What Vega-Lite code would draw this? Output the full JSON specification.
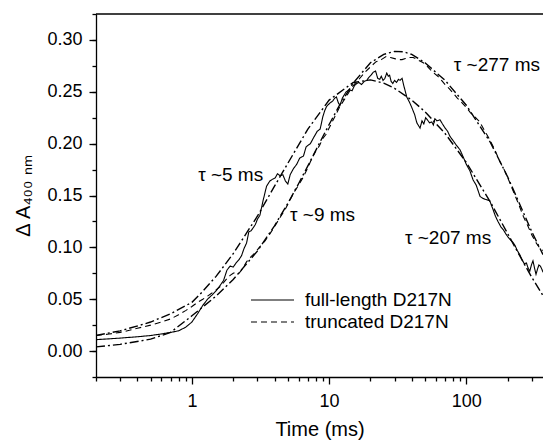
{
  "$schema": "https://vega.github.io/schema/vega-lite/v6.json",
  "width": 447,
  "height": 363,
  "autosize": {"type": "none"},
  "padding": {"left": 96, "top": 14, "right": 0, "bottom": 63},
  "background": "white",
  "config": {
    "view": {"stroke": null},
    "font": "Liberation Sans",
    "axis": {
      "domainColor": "black", "tickColor": "black", "labelColor": "black", "titleColor": "black",
      "grid": false, "labelFont": "Liberation Sans", "titleFont": "Liberation Sans",
      "labelFontSize": 18, "titleFontSize": 20, "titleFontWeight": "normal",
      "domainWidth": 1.3, "tickWidth": 1.3, "labelOverlap": false, "labelFlush": false
    }
  },
  "resolve": {"axis": {"y": "independent"}},
  "datasets": {
    "curves": [
      {"series": "full-length D217N", "t": 0.2, "v": 0.011},
      {"series": "full-length D217N", "t": 0.3, "v": 0.0125},
      {"series": "full-length D217N", "t": 0.4, "v": 0.0138},
      {"series": "full-length D217N", "t": 0.5, "v": 0.015},
      {"series": "full-length D217N", "t": 0.6, "v": 0.0165},
      {"series": "full-length D217N", "t": 0.7, "v": 0.018},
      {"series": "full-length D217N", "t": 0.8, "v": 0.0195},
      {"series": "full-length D217N", "t": 0.9, "v": 0.023},
      {"series": "full-length D217N", "t": 1.0, "v": 0.028},
      {"series": "full-length D217N", "t": 1.1, "v": 0.036},
      {"series": "full-length D217N", "t": 1.2, "v": 0.044},
      {"series": "full-length D217N", "t": 1.3, "v": 0.05},
      {"series": "full-length D217N", "t": 1.4, "v": 0.054},
      {"series": "full-length D217N", "t": 1.5, "v": 0.058},
      {"series": "full-length D217N", "t": 1.6, "v": 0.063},
      {"series": "full-length D217N", "t": 1.7, "v": 0.068},
      {"series": "full-length D217N", "t": 1.8, "v": 0.078},
      {"series": "full-length D217N", "t": 1.9, "v": 0.082},
      {"series": "full-length D217N", "t": 2.0, "v": 0.081},
      {"series": "full-length D217N", "t": 2.1, "v": 0.085},
      {"series": "full-length D217N", "t": 2.2, "v": 0.088},
      {"series": "full-length D217N", "t": 2.3, "v": 0.092},
      {"series": "full-length D217N", "t": 2.4, "v": 0.099},
      {"series": "full-length D217N", "t": 2.5, "v": 0.104},
      {"series": "full-length D217N", "t": 2.6, "v": 0.115},
      {"series": "full-length D217N", "t": 2.7, "v": 0.116},
      {"series": "full-length D217N", "t": 2.8, "v": 0.119},
      {"series": "full-length D217N", "t": 2.9, "v": 0.122},
      {"series": "full-length D217N", "t": 3.0, "v": 0.127},
      {"series": "full-length D217N", "t": 3.13, "v": 0.131},
      {"series": "full-length D217N", "t": 3.3, "v": 0.145},
      {"series": "full-length D217N", "t": 3.5, "v": 0.159},
      {"series": "full-length D217N", "t": 3.7, "v": 0.164},
      {"series": "full-length D217N", "t": 3.9, "v": 0.166},
      {"series": "full-length D217N", "t": 4.05, "v": 0.167},
      {"series": "full-length D217N", "t": 4.2, "v": 0.171},
      {"series": "full-length D217N", "t": 4.4, "v": 0.169},
      {"series": "full-length D217N", "t": 4.6, "v": 0.17},
      {"series": "full-length D217N", "t": 4.8, "v": 0.164},
      {"series": "full-length D217N", "t": 5.0, "v": 0.161},
      {"series": "full-length D217N", "t": 5.2, "v": 0.17},
      {"series": "full-length D217N", "t": 5.5, "v": 0.176},
      {"series": "full-length D217N", "t": 5.8, "v": 0.18},
      {"series": "full-length D217N", "t": 6.1, "v": 0.186},
      {"series": "full-length D217N", "t": 6.5, "v": 0.188},
      {"series": "full-length D217N", "t": 6.8, "v": 0.197},
      {"series": "full-length D217N", "t": 7.3, "v": 0.2},
      {"series": "full-length D217N", "t": 7.8, "v": 0.207},
      {"series": "full-length D217N", "t": 8.2, "v": 0.212},
      {"series": "full-length D217N", "t": 8.6, "v": 0.214},
      {"series": "full-length D217N", "t": 9.0, "v": 0.226},
      {"series": "full-length D217N", "t": 9.3, "v": 0.232},
      {"series": "full-length D217N", "t": 9.6, "v": 0.236},
      {"series": "full-length D217N", "t": 10.1, "v": 0.239},
      {"series": "full-length D217N", "t": 10.6, "v": 0.241},
      {"series": "full-length D217N", "t": 11.0, "v": 0.244},
      {"series": "full-length D217N", "t": 11.3, "v": 0.245},
      {"series": "full-length D217N", "t": 11.7, "v": 0.239},
      {"series": "full-length D217N", "t": 12.0, "v": 0.237},
      {"series": "full-length D217N", "t": 12.5, "v": 0.244},
      {"series": "full-length D217N", "t": 13.3, "v": 0.25},
      {"series": "full-length D217N", "t": 14.0, "v": 0.252},
      {"series": "full-length D217N", "t": 14.7, "v": 0.251},
      {"series": "full-length D217N", "t": 15.3, "v": 0.256},
      {"series": "full-length D217N", "t": 15.9, "v": 0.258},
      {"series": "full-length D217N", "t": 16.5, "v": 0.259},
      {"series": "full-length D217N", "t": 17.2, "v": 0.257},
      {"series": "full-length D217N", "t": 18.0, "v": 0.26},
      {"series": "full-length D217N", "t": 18.8, "v": 0.261},
      {"series": "full-length D217N", "t": 19.5, "v": 0.264},
      {"series": "full-length D217N", "t": 20.2, "v": 0.266},
      {"series": "full-length D217N", "t": 21.0, "v": 0.269},
      {"series": "full-length D217N", "t": 21.8, "v": 0.27},
      {"series": "full-length D217N", "t": 22.6, "v": 0.263},
      {"series": "full-length D217N", "t": 23.4, "v": 0.262},
      {"series": "full-length D217N", "t": 24.0, "v": 0.265},
      {"series": "full-length D217N", "t": 24.7, "v": 0.261},
      {"series": "full-length D217N", "t": 25.5, "v": 0.263},
      {"series": "full-length D217N", "t": 26.3, "v": 0.268},
      {"series": "full-length D217N", "t": 27.0, "v": 0.265},
      {"series": "full-length D217N", "t": 27.6, "v": 0.266},
      {"series": "full-length D217N", "t": 28.3, "v": 0.26},
      {"series": "full-length D217N", "t": 29.1, "v": 0.258},
      {"series": "full-length D217N", "t": 30.0, "v": 0.261},
      {"series": "full-length D217N", "t": 31.0, "v": 0.259},
      {"series": "full-length D217N", "t": 32.0, "v": 0.262},
      {"series": "full-length D217N", "t": 32.9, "v": 0.261},
      {"series": "full-length D217N", "t": 34.0, "v": 0.263},
      {"series": "full-length D217N", "t": 35.0, "v": 0.256},
      {"series": "full-length D217N", "t": 36.8, "v": 0.245},
      {"series": "full-length D217N", "t": 38.5, "v": 0.24},
      {"series": "full-length D217N", "t": 40.0, "v": 0.235},
      {"series": "full-length D217N", "t": 42.0, "v": 0.228},
      {"series": "full-length D217N", "t": 43.6, "v": 0.22},
      {"series": "full-length D217N", "t": 45.0, "v": 0.217},
      {"series": "full-length D217N", "t": 46.0, "v": 0.215},
      {"series": "full-length D217N", "t": 47.5, "v": 0.222},
      {"series": "full-length D217N", "t": 49.0, "v": 0.219},
      {"series": "full-length D217N", "t": 50.5, "v": 0.225},
      {"series": "full-length D217N", "t": 52.0, "v": 0.223},
      {"series": "full-length D217N", "t": 54.0, "v": 0.22},
      {"series": "full-length D217N", "t": 56.0, "v": 0.221},
      {"series": "full-length D217N", "t": 57.5, "v": 0.218},
      {"series": "full-length D217N", "t": 59.0, "v": 0.224},
      {"series": "full-length D217N", "t": 61.0, "v": 0.222},
      {"series": "full-length D217N", "t": 64.3, "v": 0.223},
      {"series": "full-length D217N", "t": 67.0, "v": 0.219},
      {"series": "full-length D217N", "t": 70.0, "v": 0.215},
      {"series": "full-length D217N", "t": 73.0, "v": 0.212},
      {"series": "full-length D217N", "t": 76.0, "v": 0.207},
      {"series": "full-length D217N", "t": 80.0, "v": 0.203},
      {"series": "full-length D217N", "t": 84.0, "v": 0.199},
      {"series": "full-length D217N", "t": 90.0, "v": 0.194},
      {"series": "full-length D217N", "t": 95.0, "v": 0.187},
      {"series": "full-length D217N", "t": 100, "v": 0.18},
      {"series": "full-length D217N", "t": 106, "v": 0.174},
      {"series": "full-length D217N", "t": 112, "v": 0.165},
      {"series": "full-length D217N", "t": 118, "v": 0.16},
      {"series": "full-length D217N", "t": 126, "v": 0.149},
      {"series": "full-length D217N", "t": 133, "v": 0.147},
      {"series": "full-length D217N", "t": 140, "v": 0.146},
      {"series": "full-length D217N", "t": 148, "v": 0.145},
      {"series": "full-length D217N", "t": 156, "v": 0.137},
      {"series": "full-length D217N", "t": 163, "v": 0.13},
      {"series": "full-length D217N", "t": 170, "v": 0.125},
      {"series": "full-length D217N", "t": 178, "v": 0.12},
      {"series": "full-length D217N", "t": 186, "v": 0.117},
      {"series": "full-length D217N", "t": 194, "v": 0.113},
      {"series": "full-length D217N", "t": 201, "v": 0.11},
      {"series": "full-length D217N", "t": 210, "v": 0.107},
      {"series": "full-length D217N", "t": 218, "v": 0.105},
      {"series": "full-length D217N", "t": 226, "v": 0.102},
      {"series": "full-length D217N", "t": 235, "v": 0.097},
      {"series": "full-length D217N", "t": 245, "v": 0.093},
      {"series": "full-length D217N", "t": 255, "v": 0.088},
      {"series": "full-length D217N", "t": 265, "v": 0.084},
      {"series": "full-length D217N", "t": 274, "v": 0.085},
      {"series": "full-length D217N", "t": 282, "v": 0.08},
      {"series": "full-length D217N", "t": 290, "v": 0.077},
      {"series": "full-length D217N", "t": 298, "v": 0.083},
      {"series": "full-length D217N", "t": 306, "v": 0.087},
      {"series": "full-length D217N", "t": 314, "v": 0.08},
      {"series": "full-length D217N", "t": 322, "v": 0.074},
      {"series": "full-length D217N", "t": 330, "v": 0.079},
      {"series": "full-length D217N", "t": 338, "v": 0.083},
      {"series": "full-length D217N", "t": 346, "v": 0.082},
      {"series": "full-length D217N", "t": 355, "v": 0.079},
      {"series": "full-length D217N", "t": 362, "v": 0.076},
      {"series": "truncated D217N", "t": 0.2, "v": 0.015},
      {"series": "truncated D217N", "t": 0.25, "v": 0.0165},
      {"series": "truncated D217N", "t": 0.3, "v": 0.018},
      {"series": "truncated D217N", "t": 0.35, "v": 0.02},
      {"series": "truncated D217N", "t": 0.4, "v": 0.022},
      {"series": "truncated D217N", "t": 0.45, "v": 0.0235},
      {"series": "truncated D217N", "t": 0.5, "v": 0.025},
      {"series": "truncated D217N", "t": 0.6, "v": 0.028},
      {"series": "truncated D217N", "t": 0.7, "v": 0.031},
      {"series": "truncated D217N", "t": 0.8, "v": 0.035},
      {"series": "truncated D217N", "t": 0.9, "v": 0.039},
      {"series": "truncated D217N", "t": 1.0, "v": 0.043},
      {"series": "truncated D217N", "t": 1.1, "v": 0.047},
      {"series": "truncated D217N", "t": 1.2, "v": 0.05},
      {"series": "truncated D217N", "t": 1.3, "v": 0.053},
      {"series": "truncated D217N", "t": 1.4, "v": 0.056},
      {"series": "truncated D217N", "t": 1.5, "v": 0.059},
      {"series": "truncated D217N", "t": 1.6, "v": 0.062},
      {"series": "truncated D217N", "t": 1.7, "v": 0.066},
      {"series": "truncated D217N", "t": 1.8, "v": 0.07},
      {"series": "truncated D217N", "t": 1.9, "v": 0.073},
      {"series": "truncated D217N", "t": 2.0, "v": 0.075},
      {"series": "truncated D217N", "t": 2.1, "v": 0.076},
      {"series": "truncated D217N", "t": 2.2, "v": 0.075},
      {"series": "truncated D217N", "t": 2.3, "v": 0.078},
      {"series": "truncated D217N", "t": 2.4, "v": 0.082},
      {"series": "truncated D217N", "t": 2.5, "v": 0.086},
      {"series": "truncated D217N", "t": 2.7, "v": 0.091},
      {"series": "truncated D217N", "t": 2.9, "v": 0.095},
      {"series": "truncated D217N", "t": 3.1, "v": 0.1},
      {"series": "truncated D217N", "t": 3.4, "v": 0.106},
      {"series": "truncated D217N", "t": 3.7, "v": 0.113},
      {"series": "truncated D217N", "t": 4.0, "v": 0.12},
      {"series": "truncated D217N", "t": 4.4, "v": 0.129},
      {"series": "truncated D217N", "t": 4.8, "v": 0.137},
      {"series": "truncated D217N", "t": 5.2, "v": 0.146},
      {"series": "truncated D217N", "t": 5.6, "v": 0.154},
      {"series": "truncated D217N", "t": 6.0, "v": 0.16},
      {"series": "truncated D217N", "t": 6.5, "v": 0.168},
      {"series": "truncated D217N", "t": 7.0, "v": 0.177},
      {"series": "truncated D217N", "t": 7.5, "v": 0.186},
      {"series": "truncated D217N", "t": 8.0, "v": 0.193},
      {"series": "truncated D217N", "t": 8.5, "v": 0.198},
      {"series": "truncated D217N", "t": 9.0, "v": 0.205},
      {"series": "truncated D217N", "t": 9.5, "v": 0.209},
      {"series": "truncated D217N", "t": 10, "v": 0.215},
      {"series": "truncated D217N", "t": 11, "v": 0.226},
      {"series": "truncated D217N", "t": 12, "v": 0.236},
      {"series": "truncated D217N", "t": 13, "v": 0.243},
      {"series": "truncated D217N", "t": 14, "v": 0.25},
      {"series": "truncated D217N", "t": 15, "v": 0.256},
      {"series": "truncated D217N", "t": 16.5, "v": 0.262},
      {"series": "truncated D217N", "t": 18, "v": 0.268},
      {"series": "truncated D217N", "t": 20, "v": 0.274},
      {"series": "truncated D217N", "t": 22, "v": 0.279},
      {"series": "truncated D217N", "t": 24, "v": 0.281},
      {"series": "truncated D217N", "t": 26, "v": 0.284},
      {"series": "truncated D217N", "t": 28, "v": 0.283},
      {"series": "truncated D217N", "t": 30, "v": 0.282},
      {"series": "truncated D217N", "t": 32, "v": 0.281},
      {"series": "truncated D217N", "t": 34, "v": 0.281},
      {"series": "truncated D217N", "t": 36, "v": 0.282},
      {"series": "truncated D217N", "t": 38, "v": 0.283},
      {"series": "truncated D217N", "t": 41, "v": 0.283},
      {"series": "truncated D217N", "t": 44, "v": 0.281},
      {"series": "truncated D217N", "t": 47, "v": 0.279},
      {"series": "truncated D217N", "t": 50, "v": 0.277},
      {"series": "truncated D217N", "t": 54, "v": 0.272},
      {"series": "truncated D217N", "t": 58, "v": 0.268},
      {"series": "truncated D217N", "t": 62, "v": 0.265},
      {"series": "truncated D217N", "t": 66, "v": 0.261},
      {"series": "truncated D217N", "t": 70, "v": 0.257},
      {"series": "truncated D217N", "t": 75, "v": 0.253},
      {"series": "truncated D217N", "t": 80, "v": 0.249},
      {"series": "truncated D217N", "t": 86, "v": 0.244},
      {"series": "truncated D217N", "t": 92, "v": 0.24},
      {"series": "truncated D217N", "t": 100, "v": 0.235},
      {"series": "truncated D217N", "t": 107, "v": 0.23},
      {"series": "truncated D217N", "t": 115, "v": 0.226},
      {"series": "truncated D217N", "t": 125, "v": 0.221},
      {"series": "truncated D217N", "t": 135, "v": 0.213},
      {"series": "truncated D217N", "t": 145, "v": 0.206},
      {"series": "truncated D217N", "t": 160, "v": 0.195},
      {"series": "truncated D217N", "t": 175, "v": 0.183},
      {"series": "truncated D217N", "t": 190, "v": 0.174},
      {"series": "truncated D217N", "t": 205, "v": 0.164},
      {"series": "truncated D217N", "t": 220, "v": 0.154},
      {"series": "truncated D217N", "t": 240, "v": 0.142},
      {"series": "truncated D217N", "t": 260, "v": 0.13},
      {"series": "truncated D217N", "t": 280, "v": 0.121},
      {"series": "truncated D217N", "t": 300, "v": 0.112},
      {"series": "truncated D217N", "t": 320, "v": 0.105},
      {"series": "truncated D217N", "t": 340, "v": 0.1},
      {"series": "truncated D217N", "t": 362, "v": 0.097}
    ],
    "fits": [
      {"fit": "full-length fit", "t": 0.2, "v": 0.015},
      {"fit": "full-length fit", "t": 0.3, "v": 0.0195},
      {"fit": "full-length fit", "t": 0.42, "v": 0.025},
      {"fit": "full-length fit", "t": 0.5, "v": 0.028},
      {"fit": "full-length fit", "t": 0.7, "v": 0.036},
      {"fit": "full-length fit", "t": 1, "v": 0.047},
      {"fit": "full-length fit", "t": 1.15, "v": 0.055},
      {"fit": "full-length fit", "t": 1.5, "v": 0.072},
      {"fit": "full-length fit", "t": 2, "v": 0.094},
      {"fit": "full-length fit", "t": 3, "v": 0.13},
      {"fit": "full-length fit", "t": 4, "v": 0.159},
      {"fit": "full-length fit", "t": 5, "v": 0.181},
      {"fit": "full-length fit", "t": 7, "v": 0.214},
      {"fit": "full-length fit", "t": 10, "v": 0.242},
      {"fit": "full-length fit", "t": 15, "v": 0.259},
      {"fit": "full-length fit", "t": 20, "v": 0.2615},
      {"fit": "full-length fit", "t": 25, "v": 0.2583},
      {"fit": "full-length fit", "t": 30, "v": 0.2533},
      {"fit": "full-length fit", "t": 40, "v": 0.242},
      {"fit": "full-length fit", "t": 50, "v": 0.2308},
      {"fit": "full-length fit", "t": 70, "v": 0.2098},
      {"fit": "full-length fit", "t": 100, "v": 0.1819},
      {"fit": "full-length fit", "t": 150, "v": 0.1435},
      {"fit": "full-length fit", "t": 200, "v": 0.1133},
      {"fit": "full-length fit", "t": 250, "v": 0.0897},
      {"fit": "full-length fit", "t": 300, "v": 0.0711},
      {"fit": "full-length fit", "t": 362, "v": 0.0535},
      {"fit": "truncated fit", "t": 0.2, "v": 0.004},
      {"fit": "truncated fit", "t": 0.3, "v": 0.0065},
      {"fit": "truncated fit", "t": 0.5, "v": 0.0115},
      {"fit": "truncated fit", "t": 0.7, "v": 0.018},
      {"fit": "truncated fit", "t": 1, "v": 0.034},
      {"fit": "truncated fit", "t": 1.5, "v": 0.053},
      {"fit": "truncated fit", "t": 2, "v": 0.069},
      {"fit": "truncated fit", "t": 3, "v": 0.0964},
      {"fit": "truncated fit", "t": 4, "v": 0.1208},
      {"fit": "truncated fit", "t": 5, "v": 0.1424},
      {"fit": "truncated fit", "t": 6, "v": 0.1616},
      {"fit": "truncated fit", "t": 7, "v": 0.1785},
      {"fit": "truncated fit", "t": 8.5, "v": 0.2004},
      {"fit": "truncated fit", "t": 10, "v": 0.2185},
      {"fit": "truncated fit", "t": 12, "v": 0.2378},
      {"fit": "truncated fit", "t": 15, "v": 0.2585},
      {"fit": "truncated fit", "t": 20, "v": 0.278},
      {"fit": "truncated fit", "t": 25, "v": 0.286},
      {"fit": "truncated fit", "t": 30, "v": 0.289},
      {"fit": "truncated fit", "t": 35, "v": 0.2885},
      {"fit": "truncated fit", "t": 40, "v": 0.286},
      {"fit": "truncated fit", "t": 50, "v": 0.278},
      {"fit": "truncated fit", "t": 70, "v": 0.261},
      {"fit": "truncated fit", "t": 100, "v": 0.237},
      {"fit": "truncated fit", "t": 150, "v": 0.201},
      {"fit": "truncated fit", "t": 200, "v": 0.168},
      {"fit": "truncated fit", "t": 250, "v": 0.139},
      {"fit": "truncated fit", "t": 300, "v": 0.115},
      {"fit": "truncated fit", "t": 362, "v": 0.093}
    ],
    "notes": [
      {"label": "τ ~5 ms", "t": 1.11, "v": 0.17},
      {"label": "τ ~9 ms", "t": 5.19, "v": 0.131},
      {"label": "τ ~277 ms", "t": 81, "v": 0.276},
      {"label": "τ ~207 ms", "t": 35.7, "v": 0.109}
    ]
  },
  "layer": [
    {
      "data": {"name": "curves"},
      "mark": {"type": "line", "color": "black", "strokeWidth": 1.1},
      "encoding": {
        "x": {
          "field": "t", "type": "quantitative",
          "scale": {"type": "log", "domain": [0.2, 362], "nice": false},
          "axis": {
            "title": "Time (ms)",
            "values": [0.2, 0.3, 0.4, 0.5, 0.6, 0.7, 0.8, 0.9, 1, 2, 3, 4, 5, 6, 7, 8, 9, 10, 20, 30, 40, 50, 60, 70, 80, 90, 100, 200, 300],
            "labelExpr": "(datum.value == 1 || datum.value == 10 || datum.value == 100) ? format(datum.value, 'd') : ''",
            "tickSize": {"condition": {"test": "datum.value == 1 || datum.value == 10 || datum.value == 100", "value": 7}, "value": 4},
            "labelPadding": 8,
            "titleY": 58,
            "titleBaseline": "alphabetic"
          }
        },
        "y": {
          "field": "v", "type": "quantitative",
          "scale": {"domain": [-0.025, 0.325], "nice": false, "zero": false},
          "axis": {
            "orient": "left",
            "title": "Δ A₄₀₀ ₙₘ",
            "values": [0, 0.05, 0.1, 0.15, 0.2, 0.25, 0.3],
            "format": ".2f",
            "tickSize": 7,
            "labelPadding": 7,
            "titleAngle": -90,
            "titleX": -67,
            "titleY": 181.5,
            "titleAlign": "center",
            "titleBaseline": "alphabetic"
          }
        },
        "strokeDash": {
          "field": "series", "type": "nominal",
          "scale": {"domain": ["full-length D217N", "truncated D217N"], "range": [[1, 0], [6, 4]]},
          "legend": {
            "title": null, "orient": "none", "legendX": 154, "legendY": 275,
            "symbolType": "stroke", "symbolSize": 1849, "symbolStrokeWidth": 1.2,
            "symbolStrokeColor": "black", "labelFontSize": 19, "labelFont": "Liberation Sans",
            "labelColor": "black", "clipHeight": 22, "rowPadding": 0, "labelOffset": 10, "padding": 0
          }
        }
      }
    },
    {
      "data": {"name": "fits"},
      "mark": {"type": "line", "color": "black", "strokeWidth": 1.4, "strokeDash": [9, 3, 2, 3]},
      "encoding": {
        "x": {"field": "t", "type": "quantitative"},
        "y": {
          "field": "v", "type": "quantitative",
          "axis": {
            "orient": "left",
            "title": null,
            "values": [-0.025, 0, 0.025, 0.05, 0.075, 0.1, 0.125, 0.15, 0.175, 0.2, 0.225, 0.25, 0.275, 0.3, 0.325],
            "tickSize": 4,
            "labels": false,
            "domain": false
          }
        },
        "detail": {"field": "fit", "type": "nominal"}
      }
    },
    {
      "data": {"name": "notes"},
      "mark": {"type": "text", "align": "left", "baseline": "middle", "fontSize": 19, "font": "Liberation Sans", "color": "black"},
      "encoding": {
        "x": {"field": "t", "type": "quantitative"},
        "y": {"field": "v", "type": "quantitative", "axis": null},
        "text": {"field": "label"}
      }
    },
    {
      "data": {"values": [{}]},
      "mark": {"type": "rule", "color": "black", "strokeWidth": 1.3},
      "encoding": {"y": {"datum": 0.325, "axis": null}}
    }
  ]
}
